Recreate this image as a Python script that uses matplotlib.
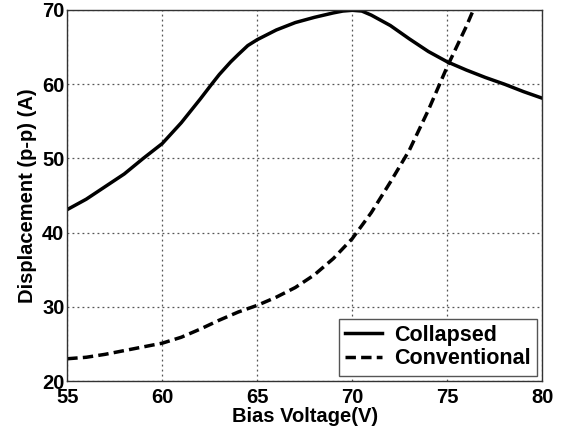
import matplotlib
matplotlib.use('Agg')
import matplotlib.pyplot as plt

plt.rcParams['font.family'] = ['Liberation Sans', 'DejaVu Sans']
plt.rcParams['font.weight'] = 'bold'

# Collapsed curve
volt_col = [55, 56, 57, 58, 59, 60, 61, 62, 62.6, 63, 63.6, 64, 64.5, 65, 66,
            67, 68, 69, 69.5, 70, 70.5, 71, 72, 73, 74, 75, 76, 77, 78, 79, 80]
disp_col = [43.1, 44.5, 46.2, 47.9, 50.0, 52.0, 54.8, 58.0, 60.0, 61.3, 63.0,
            64.0, 65.2, 66.0, 67.3, 68.3, 69.0, 69.6, 69.85, 69.95, 69.85,
            69.3, 67.9, 66.1, 64.4, 63.0, 61.9, 60.9, 60.0, 59.0, 58.1]

# Conventional curve
volt_con = [55, 56, 57, 58, 59, 60, 61, 62, 63, 64, 65, 66, 67, 68, 69, 70,
            71, 72, 73, 74, 75, 76, 76.7]
disp_con = [23.0, 23.2, 23.6, 24.1, 24.6, 25.1, 25.9, 27.0, 28.2, 29.3, 30.2,
            31.3, 32.6, 34.3, 36.5, 39.2, 42.7, 46.8, 51.1, 56.5, 62.4, 67.8,
            72.0]

fig = plt.figure(figsize=(5.65, 4.32), dpi=100)
ax = fig.add_axes([0.119, 0.118, 0.841, 0.859])

ax.plot(volt_col, disp_col, 'k-', lw=2.5, label='Collapsed')
ax.plot(volt_con, disp_con, 'k--', lw=2.5, label='Conventional', dashes=(3, 1.5))

ax.set_xlim(55, 80)
ax.set_ylim(20, 70)
ax.set_xticks([55, 60, 65, 70, 75, 80])
ax.set_yticks([20, 30, 40, 50, 60, 70])
ax.grid(True, color='#555555', linestyle=(0, (1.5, 2.5)), lw=0.9)
ax.tick_params(labelsize=14.5, direction='in', length=0)
ax.tick_params(axis='x', pad=5)
ax.tick_params(axis='y', pad=2)
for s in ax.spines.values():
    s.set_linewidth(1.0)
    s.set_color('#333333')

ax.set_xlabel('Bias Voltage(V)', fontsize=14.5, fontweight='bold', labelpad=0)
ax.set_ylabel('Displacement (p-p) (A)', fontsize=14.5, fontweight='bold', labelpad=4)

leg = ax.legend(loc='lower right', fontsize=15.5, frameon=True, fancybox=False,
                edgecolor='#555555', framealpha=1, handlelength=1.7,
                handletextpad=0.55, borderaxespad=0.25, labelspacing=0.1,
                borderpad=0.3)
leg.get_frame().set_linewidth(1.0)

fig.savefig('out.png', dpi=100)
